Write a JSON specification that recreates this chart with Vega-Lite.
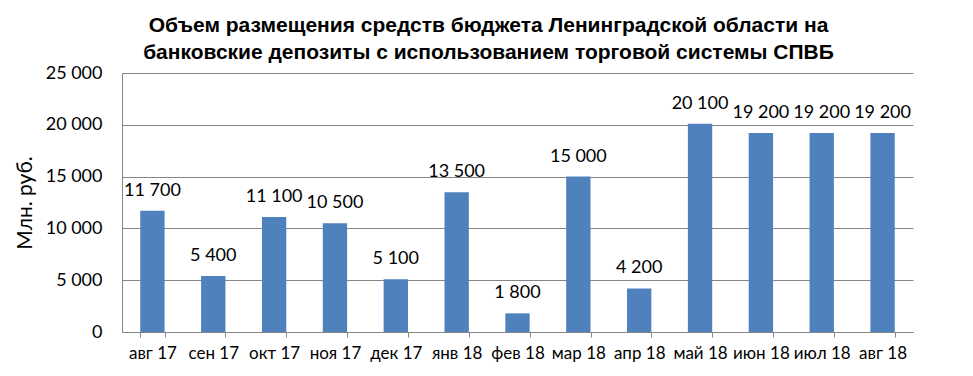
{
  "$schema": "https://vega.github.io/schema/vega-lite/v6.json",
  "width": 791,
  "height": 259,
  "autosize": {"type": "none"},
  "padding": {"left": 122, "top": 73, "right": 60, "bottom": 44},
  "background": "white",
  "title": {
    "text": ["Объем размещения средств бюджета Ленинградской области на", "банковские депозиты с  использованием торговой системы СПВБ"],
    "anchor": "middle",
    "frame": "group",
    "dx": -29,
    "offset": 1,
    "font": "Liberation Sans",
    "fontSize": 21,
    "fontWeight": "bold",
    "lineHeight": 27,
    "color": "black"
  },
  "config": {
    "locale": {"number": {"decimal": ",", "thousands": "\u00a0", "grouping": [3], "currency": ["", ""]}},
    "view": {"stroke": null},
    "font": "Lato"
  },
  "data": {
    "values": [
      {"month": "авг 17", "value": 11700},
      {"month": "сен 17", "value": 5400},
      {"month": "окт 17", "value": 11100},
      {"month": "ноя 17", "value": 10500},
      {"month": "дек 17", "value": 5100},
      {"month": "янв 18", "value": 13500},
      {"month": "фев 18", "value": 1800},
      {"month": "мар 18", "value": 15000},
      {"month": "апр 18", "value": 4200},
      {"month": "май 18", "value": 20100},
      {"month": "июн 18", "value": 19200},
      {"month": "июл 18", "value": 19200},
      {"month": "авг 18", "value": 19200}
    ]
  },
  "encoding": {
    "x": {
      "field": "month",
      "type": "nominal",
      "sort": null,
      "scale": {"paddingInner": 0.6, "paddingOuter": 0.3},
      "axis": {
        "title": null,
        "labelAngle": 0,
        "labelFont": "Lato",
        "labelFontSize": 17,
        "labelColor": "black",
        "labelPadding": 8,
        "tickBand": "extent",
        "tickSize": 5,
        "tickColor": "#868686",
        "domainColor": "#868686",
        "grid": false
      }
    },
    "y": {
      "field": "value",
      "type": "quantitative",
      "scale": {"domain": [0, 25000], "nice": false},
      "axis": {
        "title": "Млн. руб.",
        "titleFont": "Lato",
        "titleFontSize": 21,
        "titleFontWeight": "normal",
        "titleColor": "black",
        "titlePadding": 10,
        "values": [0, 5000, 10000, 15000, 20000, 25000],
        "format": ",d",
        "labelFont": "Lato",
        "labelFontSize": 18,
        "labelColor": "black",
        "labelPadding": 20,
        "ticks": false,
        "domainColor": "#868686",
        "gridColor": "#868686",
        "grid": true
      }
    }
  },
  "layer": [
    {"mark": {"type": "bar", "color": "#4F81BD"}},
    {
      "mark": {"type": "text", "baseline": "middle", "dy": -20, "fontSize": 18, "font": "Lato", "color": "black"},
      "encoding": {"text": {"field": "value", "type": "quantitative", "format": ",d"}}
    }
  ]
}
